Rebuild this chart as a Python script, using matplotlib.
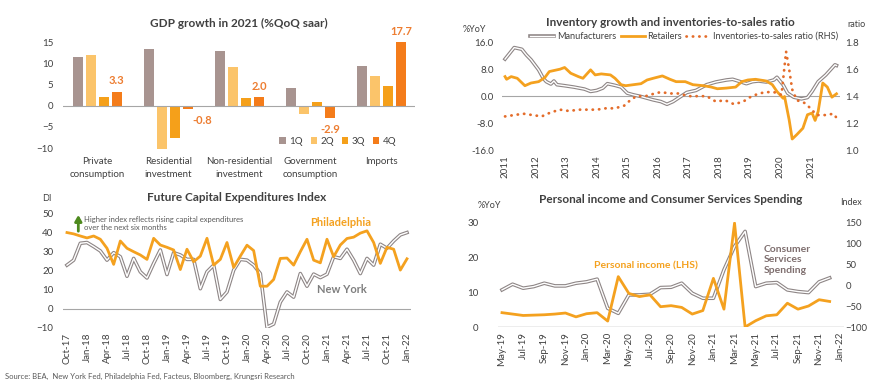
import numpy as np
import pandas as pd
import matplotlib.pyplot as plt
import matplotlib.patheffects as pe

plt.rcParams['font.family'] = ['Lato', 'DejaVu Sans']
plt.rcParams['text.color'] = '#404040'
plt.rcParams['xtick.color'] = '#404040'
plt.rcParams['ytick.color'] = '#404040'

# ---- GDP growth in 2021 ----
gdpCats = ['Private\nconsumption', 'Residential\ninvestment', 'Non-residential\ninvestment',
           'Government\nconsumption', 'Imports']
gdpQuarters = ['1Q', '2Q', '3Q', '4Q']
gdp1Q = [11.4, 13.3, 12.9, 4.2, 9.3]
gdp2Q = [12.0, -10.3, 9.2, -2.0, 7.1]
gdp3Q = [2.0, -7.7, 1.7, 0.9, 4.7]
gdp4Q = [3.3, -0.8, 2.0, -2.9, 17.7]

# ---- Inventory growth (decimal years) ----
mfgYears = [2011.0, 2011.15, 2011.3, 2011.55, 2011.7, 2011.85, 2012.1, 2012.25, 2012.35, 2012.5,
            2012.6, 2012.7, 2012.95, 2013.25, 2013.6, 2013.8, 2014.0, 2014.2, 2014.35, 2014.6,
            2014.8, 2015.0, 2015.2, 2015.45, 2015.65, 2015.85, 2016.1, 2016.3, 2016.5, 2016.75,
            2016.95, 2017.25, 2017.6, 2017.9, 2018.25, 2018.45, 2018.7, 2018.9, 2019.1, 2019.3,
            2019.55, 2019.8, 2019.9, 2020.1, 2020.25, 2020.45, 2020.7, 2020.9, 2021.05, 2021.25,
            2021.5, 2021.7, 2021.8, 2021.85]
mfgVals = [11.0, 12.7, 14.4, 13.9, 12.2, 10.8, 7.8, 5.3, 4.3, 3.6,
           4.5, 3.4, 3.1, 2.7, 2.1, 1.4, 1.7, 2.4, 3.7, 3.2,
           2.7, 0.9, 0.4, -0.1, -0.6, -1.1, -1.6, -2.4, -1.6, -0.1,
           1.1, 1.7, 3.4, 4.2, 4.8, 5.0, 4.3, 3.7, 4.3, 4.5,
           4.2, 4.8, 5.6, 3.4, 0.9, -0.3, -0.8, -0.4, 1.4, 4.3,
           6.3, 8.3, 9.3, 9.1]
retYears = [2011.0, 2011.05, 2011.2, 2011.4, 2011.65, 2011.85, 2012.1, 2012.3, 2012.45, 2012.6,
            2012.8, 2012.95, 2013.15, 2013.4, 2013.55, 2013.8, 2013.95, 2014.15, 2014.45, 2014.6,
            2014.8, 2014.95, 2015.2, 2015.45, 2015.65, 2015.85, 2016.15, 2016.4, 2016.6, 2016.9,
            2017.15, 2017.5, 2017.75, 2017.95, 2018.25, 2018.55, 2018.75, 2018.95, 2019.2, 2019.55,
            2019.75, 2019.9, 2020.1, 2020.15, 2020.3, 2020.4, 2020.55, 2020.75, 2020.9, 2021.05,
            2021.15, 2021.25, 2021.4, 2021.55, 2021.7, 2021.85]
retVals = [5.8, 5.0, 5.8, 5.3, 3.1, 3.9, 4.3, 5.5, 7.3, 7.6,
           8.0, 8.5, 6.8, 5.8, 5.3, 7.8, 6.3, 6.6, 6.3, 5.3,
           3.4, 3.1, 3.4, 3.7, 4.8, 5.3, 6.0, 5.0, 4.3, 4.3,
           3.4, 3.1, 2.7, 2.2, 2.4, 2.7, 4.3, 4.8, 5.0, 4.5,
           3.4, 1.4, -0.6, -0.1, -7.0, -12.7, -11.4, -9.5, -5.5, -5.0,
           -7.2, -4.5, 3.9, 2.7, -0.3, 0.7]
ratioYears = [2011.0, 2011.3, 2011.6, 2011.9, 2012.2, 2012.5, 2012.8, 2013.1, 2013.4, 2013.7,
              2014.0, 2014.3, 2014.6, 2014.9, 2015.1, 2015.3, 2015.6, 2015.9, 2016.1, 2016.4,
              2016.7, 2017.0, 2017.3, 2017.6, 2017.9, 2018.2, 2018.5, 2018.8, 2019.0, 2019.2,
              2019.5, 2019.8, 2020.05, 2020.2, 2020.3, 2020.4, 2020.55, 2020.8, 2021.0, 2021.2,
              2021.5, 2021.75, 2021.85]
ratioVals = [1.25, 1.26, 1.27, 1.26, 1.25, 1.28, 1.30, 1.29, 1.30, 1.30,
             1.30, 1.31, 1.31, 1.33, 1.37, 1.40, 1.40, 1.42, 1.43, 1.42,
             1.42, 1.40, 1.40, 1.40, 1.36, 1.37, 1.34, 1.36, 1.39, 1.41,
             1.43, 1.43, 1.41, 1.73, 1.60, 1.45, 1.37, 1.35, 1.31, 1.26,
             1.26, 1.27, 1.24]

# ---- Future capital expenditures (monthly, Oct-17 .. Jan-22) ----
philly = [39.8, 39.1, 38.0, 37.0, 38.0, 36.3, 31.6, 23.2, 35.4, 31.6,
          29.8, 28.1, 25.8, 36.8, 33.3, 32.1, 30.7, 20.5, 31.1, 24.6,
          27.5, 36.8, 22.8, 25.8, 34.6, 21.6, 27.5, 33.2, 30.4, 11.8,
          11.8, 15.3, 26.3, 26.5, 22.8, 29.8, 36.3, 25.4, 24.0, 36.3,
          27.2, 33.3, 36.7, 37.4, 39.5, 40.7, 34.6, 23.7, 32.1, 31.1,
          20.2, 26.1]
newYork = [22.8, 25.4, 34.2, 34.6, 32.5, 30.2, 25.4, 29.3, 27.2, 17.0,
           26.3, 19.3, 16.1, 23.7, 30.7, 17.9, 29.3, 28.1, 25.8, 25.8,
           10.5, 19.3, 22.8, 4.9, 8.8, 20.2, 25.8, 25.4, 22.8, 18.4,
           -9.6, -7.9, 3.5, 8.8, 6.1, 18.4, 11.8, 18.1, 16.3, 18.1,
           27.2, 26.3, 31.1, 25.4, 18.4, 26.3, 22.8, 33.7, 31.6, 35.4,
           38.6, 39.8]
capexMonths = pd.date_range('2017-10-01', periods=52, freq='MS').strftime('%b-%y')

# ---- Personal income and consumer services (monthly, May-19 .. Dec-21) ----
income = [4.1, 3.7, 3.3, 3.4, 3.5, 3.7, 4.0, 2.9, 3.8, 4.1,
          1.7, 14.4, 9.6, 8.7, 9.2, 5.8, 6.1, 5.6, 3.7, 4.7,
          13.9, 5.1, 29.7, 0.0, 1.8, 3.2, 3.5, 6.8, 5.1, 6.0,
          7.8, 7.3]
services = [-11.6, 1.9, -7.6, -3.7, 4.3, -2.1, -2.1, 4.3, 7.5, 13.9,
            -55.4, -67.4, -23.6, -23.6, -22.0, -6.1, -5.3, 4.3, -19.6, -31.5,
            -31.5, 36.2, 91.9, 127.7, -3.7, 4.3, 5.9, -11.6, -15.6, -18.0,
            7.5, 17.0]
incomeMonths = pd.date_range('2019-05-01', periods=33, freq='MS').strftime('%b-%y')

orange = '#F4A11F'
darkOrange = '#ED7D31'
greyLine = '#8E8686'
axisGrey = '#A6A6A6'
doubleLine = [pe.Stroke(linewidth=2.6, foreground=greyLine), pe.Normal()]


def cleanAxes(ax):
    for s in ax.spines.values():
        s.set_visible(False)
    ax.tick_params(length=0, labelsize=7)


fig = plt.figure(figsize=(8.7, 3.87), dpi=100)

# ---------- GDP bars ----------
ax1 = fig.add_axes([0.0724, 0.612, 0.405, 0.279])
cleanAxes(ax1)
xPos = np.arange(len(gdpCats))
barW = 0.14
step = 0.183
barColors = ['#A89490', '#FBC46A', '#F5A01A', '#F47C1A']
for k, (vals, col) in enumerate(zip([gdp1Q, gdp2Q, gdp3Q, gdp4Q], barColors)):
    ax1.bar(xPos + (k - 1.5) * step, vals, width=barW, color=col, label=gdpQuarters[k])
for i, v in enumerate(gdp4Q):
    shown = min(v, 15)
    off = 4 if v >= 0 else -4
    va = 'bottom' if v >= 0 else 'top'
    if i == 1:
        ax1.text(i + 1.5 * step + 0.06, -3.6, f'{v:.1f}', color=darkOrange, fontsize=8,
                 fontweight='bold', ha='left', va='center')
        continue
    ax1.annotate(f'{v:.1f}', (i + 1.5 * step, shown), xytext=(0, off), textcoords='offset points',
                 ha='center', va=va, color=darkOrange, fontsize=8, fontweight='bold',
                 annotation_clip=False)
ax1.axhline(0, color=axisGrey, lw=0.8)
ax1.set_ylim(-10.5, 15)
ax1.set_xlim(-0.48, 4.47)
ax1.set_yticks([-10, -5, 0, 5, 10, 15])
ax1.set_xticks(xPos)
ax1.set_xticklabels(gdpCats, fontsize=7, linespacing=1.6)
ax1.tick_params(axis='x', pad=5)
ax1.tick_params(axis='y', pad=7)
ax1.set_title('GDP growth in 2021 (%QoQ saar)', fontsize=8.5, fontweight='bold', pad=11)
ax1.legend(loc='lower right', bbox_to_anchor=(0.97, -0.04), ncol=4, frameon=False, fontsize=7,
           handlelength=0.7, handleheight=0.7, handletextpad=0.3, columnspacing=0.8)

# ---------- Inventory ----------
ax2 = fig.add_axes([0.577, 0.612, 0.388, 0.279])
cleanAxes(ax2)
ax2.axhline(0, color=axisGrey, lw=0.8)
ax2.plot(mfgYears, mfgVals, color='white', lw=1.0, path_effects=doubleLine, label='Manufacturers')
ax2.plot(retYears, retVals, color=orange, lw=2.0, label='Retailers')
ax2b = ax2.twinx()
cleanAxes(ax2b)
ax2b.plot(ratioYears, ratioVals, color='#E46C2A', lw=2.0, linestyle=(0, (0.1, 2.2)),
          dash_capstyle='round', label='Inventories-to-sales ratio (RHS)')
ax2.set_xlim(2010.9, 2021.95)
ax2.set_ylim(-16, 16)
ax2.set_yticks([-16, -8, 0, 8, 16])
ax2.set_yticklabels([f'{t:.1f}' for t in [-16, -8, 0, 8, 16]])
ax2b.set_ylim(1.0, 1.8)
ax2b.set_yticks([1.0, 1.2, 1.4, 1.6, 1.8])
ax2b.set_yticklabels([f'{t:.1f}' for t in [1.0, 1.2, 1.4, 1.6, 1.8]])
ax2.set_xticks(range(2011, 2022))
ax2.set_xticklabels([str(y) for y in range(2011, 2022)], rotation=90)
ax2.tick_params(axis='y', pad=6)
ax2b.tick_params(axis='y', pad=4)
ax2.set_title('Inventory growth and inventories-to-sales ratio', fontsize=8.5, fontweight='bold', pad=12)
h1, l1 = ax2.get_legend_handles_labels()
h2, l2 = ax2b.get_legend_handles_labels()
ax2.legend(h1 + h2, l1 + l2, loc='center', bbox_to_anchor=(0.54, 1.055), ncol=3, frameon=False,
           fontsize=6.6, handlelength=2.6, handletextpad=0.3, columnspacing=0.5)
fig.text(0.545, 0.925, '%YoY', fontsize=6.5, ha='center', va='center', color='#404040')
fig.text(0.984, 0.937, 'ratio', fontsize=6.5, ha='center', va='center', color='#404040')

# ---------- Capex ----------
ax3 = fig.add_axes([0.0724, 0.1525, 0.4, 0.2971])
cleanAxes(ax3)
ax3.axhline(0, color=axisGrey, lw=0.8)
xc = np.arange(len(philly))
ax3.plot(xc, newYork, color='white', lw=1.0, path_effects=doubleLine)
ax3.plot(xc, philly, color=orange, lw=2.0)
ax3.set_xlim(-0.6, 51.6)
ax3.set_ylim(-10, 50)
ax3.set_yticks(range(-10, 51, 10))
ax3.set_xticks(xc[::3])
ax3.set_xticklabels(capexMonths[::3], rotation=90)
ax3.tick_params(axis='y', pad=7)
ax3.set_title('Future Capital Expenditures Index', fontsize=8.5, fontweight='bold', pad=9)
ax3.text(41.0, 45.0, 'Philadelphia', color=orange, fontsize=8, fontweight='bold', ha='center', va='center')
ax3.text(41.2, 10.0, 'New York', color='#7F7F7F', fontsize=8, fontweight='bold', ha='center', va='center')
ax3.annotate('', xy=(1.7, 49.0), xytext=(1.7, 40.5),
             arrowprops=dict(arrowstyle='-|>,head_width=0.2,head_length=0.35', color='#4E8A1E',
                             lw=2.0, shrinkA=0, shrinkB=0))
ax3.text(2.6, 44.5, 'Higher index reflects rising capital expenditures\nover the next six months',
         fontsize=5.5, color='#595959', ha='left', va='center', linespacing=1.3)
fig.text(0.054, 0.486, 'DI', fontsize=6.5, ha='center', va='center', color='#404040')

# ---------- Personal income ----------
ax4 = fig.add_axes([0.5724, 0.155, 0.398, 0.2713])
cleanAxes(ax4)
xi = np.arange(len(income))
ax4.axhline(0, color=axisGrey, lw=1.0)
ax4b = ax4.twinx()
cleanAxes(ax4b)
ax4b.plot(xi, services, color='white', lw=1.0, path_effects=doubleLine)
ax4.plot(xi, income, color=orange, lw=2.0)
ax4.set_zorder(ax4b.get_zorder() + 1)
ax4.patch.set_visible(False)
ax4.set_xlim(-0.38, 32.38)
ax4.set_ylim(0, 30)
ax4.set_yticks([0, 10, 20, 30])
ax4b.set_ylim(-100, 150)
ax4b.set_yticks(range(-100, 151, 50))
ax4b.tick_params(axis='y', labelsize=6.8)
ax4.set_xticks(range(0, 33, 2))
ax4.set_xticklabels(incomeMonths[::2], rotation=90)
ax4.tick_params(axis='y', pad=14)
ax4b.tick_params(axis='y', pad=1)
ax4.set_title('Personal income and Consumer Services Spending', fontsize=8.5, fontweight='bold', pad=14)
ax4.text(13.6, 17.4, 'Personal income (LHS)', color=orange, fontsize=7.5, fontweight='bold', ha='center', va='center')
ax4.text(24.75, 19.2, 'Consumer\nServices\nSpending', color='#7F6F6F', fontsize=7.5, fontweight='bold',
         ha='left', va='center', linespacing=1.25)
fig.text(0.562, 0.47, '%YoY', fontsize=6.5, ha='center', va='center', color='#404040')
fig.text(0.978, 0.478, 'Index', fontsize=6.5, ha='center', va='center', color='#404040')

fig.text(0.006, 0.026, 'Source: BEA,  New York Fed, Philadelphia Fed, Facteus, Bloomberg, Krungsri Research',
         fontsize=5.5, color='#595959', ha='left', va='center')

fig.savefig('out.png', dpi=100)
